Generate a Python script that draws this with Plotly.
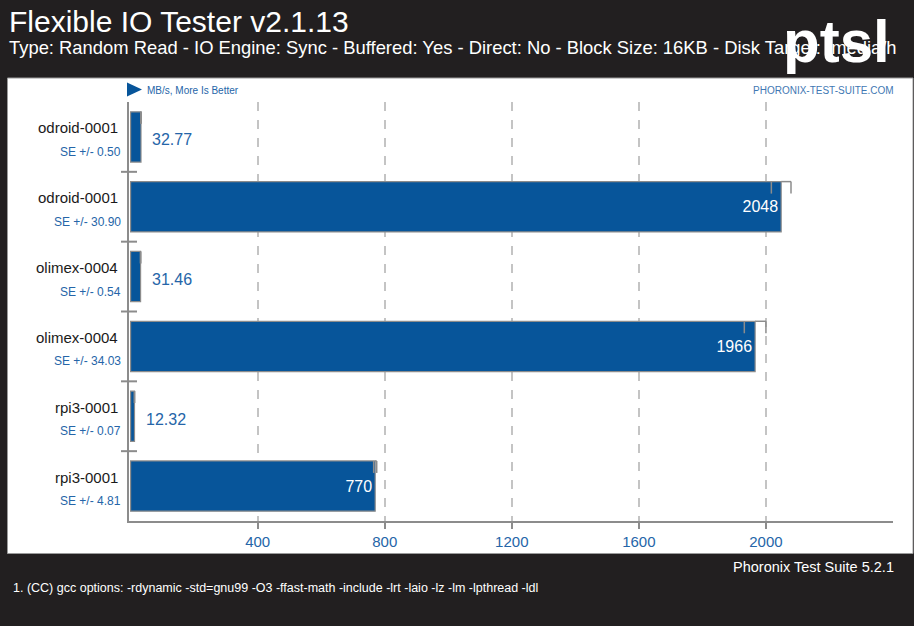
import plotly.graph_objects as go

# ---- data ----
systems = ["odroid-0001", "odroid-0001", "olimex-0004", "olimex-0004", "rpi3-0001", "rpi3-0001"]
values = [32.77, 2048, 31.46, 1966, 12.32, 770]
value_labels = ["32.77", "2048", "31.46", "1966", "12.32", "770"]
se_values = [0.50, 30.90, 0.54, 34.03, 0.07, 4.81]
se_labels = ["SE +/- 0.50", "SE +/- 30.90", "SE +/- 0.54", "SE +/- 34.03", "SE +/- 0.07", "SE +/- 4.81"]
x_ticks = [400, 800, 1200, 1600, 2000]
x_ticklabels = ["400", "800", "1200", "1600", "2000"]

title = "Flexible IO Tester v2.1.13"
subtitle = ("Type: Random Read - IO Engine: Sync - Buffered: Yes - Direct: No - "
            "Block Size: 16KB - Disk Target: /media/h")
unit_text = "MB/s, More Is Better"
site_text = "PHORONIX-TEST-SUITE.COM"
footer_version = "Phoronix Test Suite 5.2.1"
footer_note = ("1. (CC) gcc options: -rdynamic -std=gnu99 -O3 -ffast-math -include "
               "-lrt -laio -lz -lm -lpthread -ldl")

# ---- geometry helpers ----
FW, FH = 914, 626
L, R, T, B = 129, 893, 102, 521
PW, PH = R - L, B - T


def px_x(px):
    return (px - L) / PW


def px_y(py):
    return 1 - (py - T) / PH


FONT = "Liberation Sans, Arial, Helvetica, sans-serif"
BAR_BLUE = "#07559a"
TEXT_BLUE = "#2565a8"
GREY = "#8c8c8c"
DARK = "#221f20"

n = len(values)
ypos = list(range(n))
bar_w = 0.72
inside = [v > 200 for v in values]

fig = go.Figure()
fig.add_trace(go.Bar(
    x=values, y=ypos, orientation="h", width=bar_w,
    marker=dict(color=BAR_BLUE, line=dict(color=GREY, width=1.2)),
    text=[lab if ins else "" for lab, ins in zip(value_labels, inside)],
    textposition="inside", insidetextanchor="end",
    insidetextfont=dict(color="white", size=16, family=FONT),
    hoverinfo="skip", showlegend=False, cliponaxis=False,
))

shapes = []
annotations = []

# white panel
shapes.append(dict(type="rect", xref="paper", yref="paper",
                   x0=px_x(7.5), x1=px_x(913), y0=px_y(78), y1=px_y(553.5),
                   fillcolor="white", line=dict(color="#9a9a9a", width=1), layer="below"))

# category boundary ticks on y axis
for k in range(n - 1):
    shapes.append(dict(type="line", xref="paper", yref="y",
                       x0=px_x(121), x1=px_x(137), y0=k + 0.5, y1=k + 0.5,
                       line=dict(color=GREY, width=2)))

# error bars (Phoronix style, drawn along top edge of bar)
tick_h = 12 / (PH / n)
for i, (v, s) in enumerate(zip(values, se_values)):
    ytop = i - bar_w / 2
    shapes.append(dict(type="line", xref="x", yref="y", x0=v, x1=v + s, y0=ytop, y1=ytop,
                       line=dict(color=GREY, width=1.5)))
    for xe in (v - s, v + s):
        shapes.append(dict(type="line", xref="x", yref="y", x0=xe, x1=xe,
                           y0=ytop, y1=ytop + tick_h, line=dict(color=GREY, width=1.5)))

# legend triangle
shapes.append(dict(type="path", xref="paper", yref="paper",
                   path=f"M {px_x(127)},{px_y(82.5)} L {px_x(142)},{px_y(89.5)} L {px_x(127)},{px_y(96.5)} Z",
                   fillcolor=BAR_BLUE, line=dict(width=0)))

# category labels
for i in range(n):
    annotations.append(dict(xref="paper", yref="y", x=px_x(120), y=i, yshift=9,
                            xanchor="right", yanchor="middle", showarrow=False,
                            text=systems[i], font=dict(size=15, color="#1a1a1a", family=FONT)))
    annotations.append(dict(xref="paper", yref="y", x=px_x(123), y=i, yshift=-15,
                            xanchor="right", yanchor="middle", showarrow=False,
                            text=se_labels[i], font=dict(size=12, color=TEXT_BLUE, family=FONT)))
    if not inside[i]:
        annotations.append(dict(xref="x", yref="y", x=values[i], y=i, xshift=9, yshift=-3,
                                xanchor="left", yanchor="middle", showarrow=False,
                                text=value_labels[i], font=dict(size=16, color=TEXT_BLUE, family=FONT)))

# header / footer texts
annotations += [
    dict(xref="paper", yref="paper", x=px_x(7), y=px_y(21), xanchor="left", yanchor="middle",
         showarrow=False, text=title, font=dict(size=30, color="white", family=FONT)),
    dict(xref="paper", yref="paper", x=px_x(7), y=px_y(48), xanchor="left", yanchor="middle",
         showarrow=False, text=subtitle, font=dict(size=18.4, color="white", family=FONT)),
    dict(xref="paper", yref="paper", x=px_x(836), y=px_y(42), xanchor="center", yanchor="middle",
         showarrow=False, text="<b>ptsl</b>", font=dict(size=60, color="white", family=FONT)),
    dict(xref="paper", yref="paper", x=px_x(145), y=px_y(90), xanchor="left", yanchor="middle",
         showarrow=False, text=unit_text, font=dict(size=10, color=TEXT_BLUE, family=FONT)),
    dict(xref="paper", yref="paper", x=px_x(896), y=px_y(90), xanchor="right", yanchor="middle",
         showarrow=False, text=site_text, font=dict(size=10, color="#3f78b3", family=FONT)),
    dict(xref="paper", yref="paper", x=px_x(896), y=px_y(567), xanchor="right", yanchor="middle",
         showarrow=False, text=footer_version, font=dict(size=14.5, color="white", family=FONT)),
    dict(xref="paper", yref="paper", x=px_x(11), y=px_y(588), xanchor="left", yanchor="middle",
         showarrow=False, text=footer_note, font=dict(size=12.5, color="white", family=FONT)),
]

fig.update_layout(
    width=FW, height=FH,
    margin=dict(l=L, r=FW - R, t=T, b=FH - B, pad=0),
    paper_bgcolor=DARK, plot_bgcolor="white",
    font=dict(family=FONT),
    shapes=shapes, annotations=annotations,
    xaxis=dict(range=[-5, 2400], tickvals=x_ticks, ticktext=x_ticklabels,
               showline=True, linecolor=GREY, linewidth=1.5,
               ticks="outside", ticklen=6, tickcolor=GREY, tickwidth=1.5,
               tickfont=dict(size=15, color=TEXT_BLUE, family=FONT),
               showgrid=True, gridcolor="#c4c4c4", gridwidth=1.5, griddash="dash",
               zeroline=False, fixedrange=True),
    yaxis=dict(range=[n - 0.5, -0.5], showticklabels=False, showgrid=False,
               showline=True, linecolor=GREY, linewidth=1.5, ticks="",
               zeroline=False, fixedrange=True),
    bargap=0.28,
)

fig.write_html(
    "out.html",
    config={"displayModeBar": False},
    post_script=("document.body.style.margin='0';document.body.style.padding='0';"
                 "document.body.style.background='#221f20';"
                 "document.documentElement.style.background='#221f20';"),
)
